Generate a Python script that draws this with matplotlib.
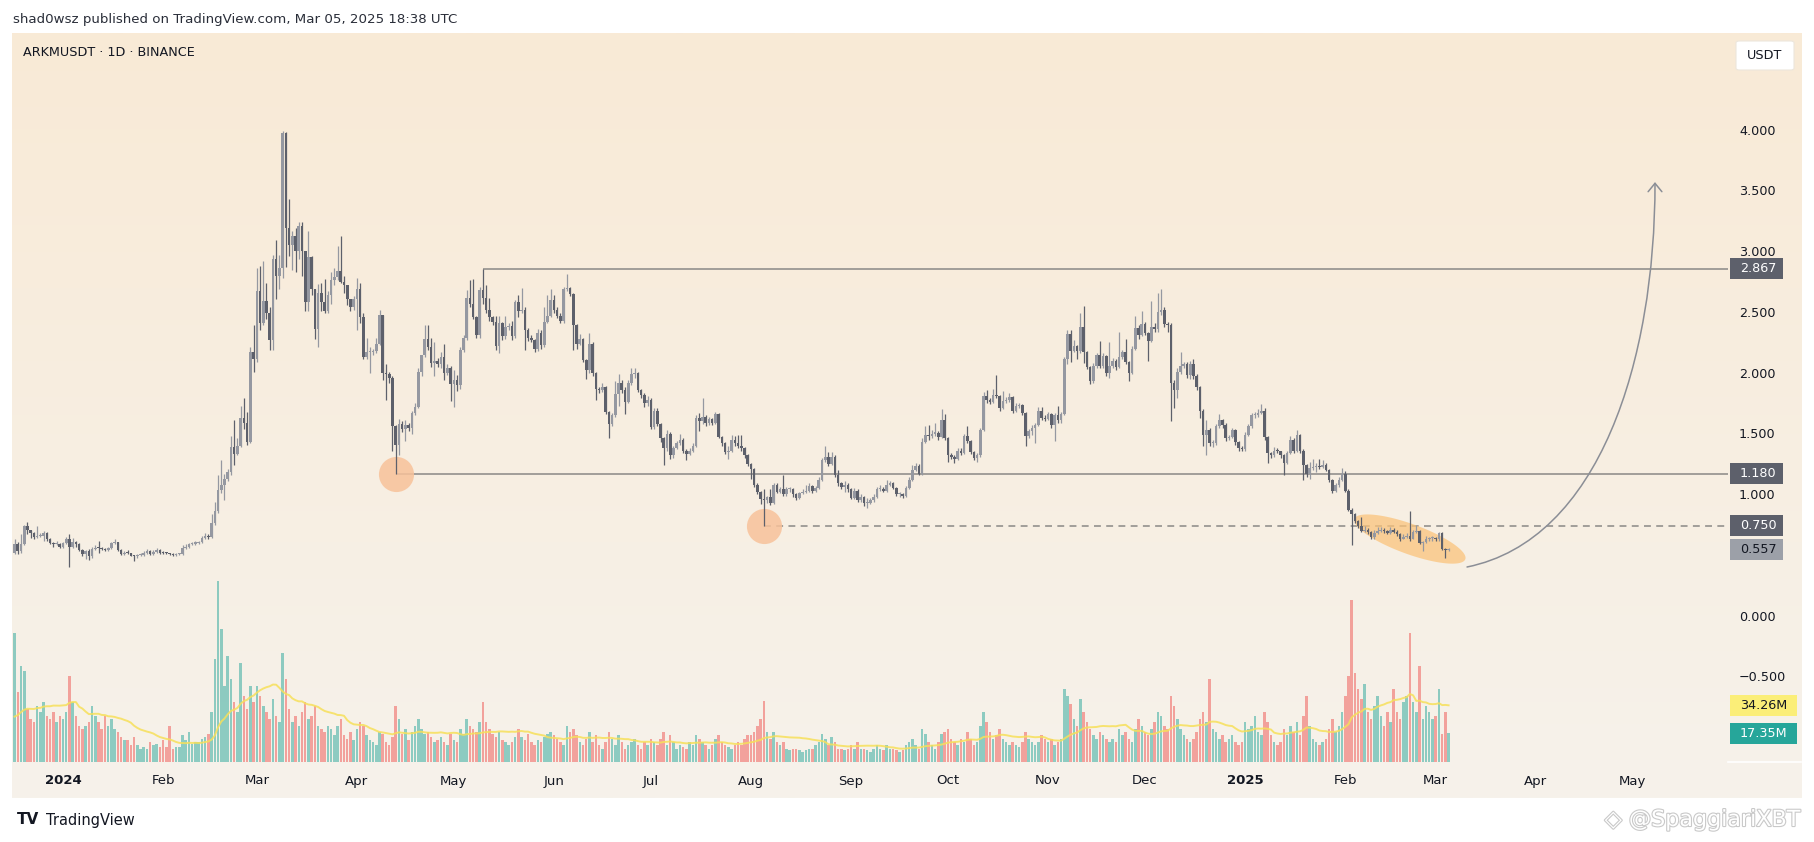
import numpy as np
import pandas as pd
import matplotlib
matplotlib.use('Agg')
import matplotlib.pyplot as plt
from matplotlib.patches import Rectangle, Polygon, FancyArrowPatch, FancyBboxPatch
from matplotlib.path import Path
import matplotlib.patheffects as pe

plt.rcParams['font.family'] = ['DejaVu Sans']

# ---------------- data (daily candles, Dec 17 2023 .. Mar 5 2025) ----------------
start_date = '2023-12-17'
first_open = 0.53

closes = [
    # Dec 2023
    0.605, 0.54, 0.60, 0.75, 0.715, 0.69, 0.655, 0.67, 0.67, 0.69, 0.64, 0.61, 0.60, 0.605, 0.58,
    # Jan 2024
    0.61, 0.64, 0.575, 0.62, 0.60, 0.55, 0.515, 0.54, 0.50, 0.56, 0.57, 0.565, 0.56, 0.55, 0.57, 0.61,
    0.615, 0.55, 0.52, 0.53, 0.528, 0.505, 0.50, 0.51, 0.51, 0.53, 0.545, 0.52, 0.535, 0.55, 0.53,
    # Feb 2024
    0.528, 0.525, 0.52, 0.51, 0.52, 0.522, 0.57, 0.58, 0.60, 0.605, 0.61, 0.62, 0.65, 0.67, 0.655,
    0.77, 0.872, 1.045, 1.086, 1.14, 1.19, 1.40, 1.34, 1.41, 1.635, 1.60, 1.44, 2.18, 2.12,
    # Mar 2024
    2.68, 2.42, 2.60, 2.50, 2.28, 2.95, 2.81, 2.87, 3.98, 3.20, 3.06, 3.14, 3.01, 3.22, 3.01, 2.59,
    2.96, 2.70, 2.37, 2.67, 2.59, 2.52, 2.65, 2.77, 2.80, 2.85, 2.76, 2.73, 2.62, 2.55, 2.62,
    # Apr 2024
    2.70, 2.47, 2.14, 2.18, 2.18, 2.19, 2.25, 2.485, 2.006, 2.00, 1.97, 1.575, 1.416, 1.59, 1.55,
    1.58, 1.56, 1.676, 1.73, 2.02, 2.156, 2.285, 2.225, 2.088, 2.11, 2.08, 2.14, 2.006, 2.05, 1.915,
    # May 2024
    1.95, 1.91, 2.20, 2.30, 2.63, 2.58, 2.47, 2.32, 2.69, 2.63, 2.53, 2.47, 2.43, 2.233, 2.418, 2.31,
    2.39, 2.395, 2.31, 2.595, 2.52, 2.53, 2.36, 2.30, 2.28, 2.21, 2.34, 2.24, 2.43, 2.48, 2.61,
    # Jun 2024
    2.53, 2.48, 2.44, 2.70, 2.705, 2.66, 2.40, 2.25, 2.29, 2.115, 2.03, 2.25, 2.01, 1.874, 1.87,
    1.89, 1.69, 1.59, 1.66, 1.835, 1.93, 1.87, 1.77, 1.93, 2.00, 2.005, 1.87, 1.83, 1.76, 1.79,
    # Jul 2024
    1.566, 1.70, 1.59, 1.47, 1.39, 1.51, 1.33, 1.39, 1.43, 1.46, 1.37, 1.34, 1.37, 1.41, 1.635, 1.61,
    1.65, 1.60, 1.63, 1.60, 1.67, 1.485, 1.43, 1.36, 1.37, 1.46, 1.43, 1.41, 1.39, 1.33, 1.26,
    # Aug 2024
    1.22, 1.09, 1.03, 0.97, 0.965, 0.99, 0.94, 1.086, 1.03, 1.05, 1.01, 1.05, 1.052, 1.01, 0.98, 1.02,
    1.03, 1.04, 1.08, 1.04, 1.06, 1.13, 1.29, 1.32, 1.26, 1.32, 1.17, 1.10, 1.07, 1.09, 1.05,
    # Sep 2024
    0.98, 1.04, 0.96, 0.99, 0.935, 0.94, 0.96, 0.99, 1.05, 1.055, 1.04, 1.09, 1.10, 1.06, 1.01,
    1.012, 1.00, 1.06, 1.13, 1.21, 1.24, 1.18, 1.44, 1.50, 1.49, 1.51, 1.515, 1.48, 1.62, 1.47,
    # Oct 2024
    1.33, 1.32, 1.30, 1.37, 1.35, 1.49, 1.45, 1.36, 1.31, 1.33, 1.54, 1.82, 1.79, 1.77, 1.83, 1.82,
    1.72, 1.78, 1.785, 1.81, 1.70, 1.74, 1.745, 1.68, 1.49, 1.53, 1.56, 1.58, 1.70, 1.64, 1.63,
    # Nov 2024
    1.67, 1.58, 1.66, 1.62, 1.67, 2.12, 2.33, 2.19, 2.23, 2.19, 2.39, 2.18, 2.06, 1.945, 2.07,
    2.155, 2.07, 2.15, 2.01, 2.07, 2.11, 2.06, 2.14, 2.18, 2.10, 2.01, 2.21, 2.38, 2.32, 2.41,
    # Dec 2024
    2.34, 2.27, 2.39, 2.37, 2.51, 2.53, 2.41, 2.405, 1.93, 1.87, 2.02, 2.07, 2.08, 1.99, 2.08, 1.985,
    1.89, 1.70, 1.50, 1.54, 1.43, 1.435, 1.57, 1.62, 1.58, 1.47, 1.48, 1.54, 1.44, 1.39, 1.385,
    # Jan 2025
    1.50, 1.57, 1.66, 1.665, 1.68, 1.70, 1.48, 1.35, 1.33, 1.37, 1.365, 1.33, 1.27, 1.35, 1.46, 1.37,
    1.50, 1.37, 1.25, 1.18, 1.23, 1.232, 1.24, 1.238, 1.25, 1.21, 1.13, 1.04, 1.085, 1.13, 1.18,
    # Feb 2025
    1.04, 0.883, 0.85, 0.79, 0.75, 0.71, 0.715, 0.70, 0.66, 0.69, 0.71, 0.72, 0.705, 0.69, 0.72,
    0.70, 0.68, 0.645, 0.66, 0.67, 0.645, 0.70, 0.71, 0.61, 0.615, 0.645, 0.647, 0.65,
    # Mar 2025
    0.64, 0.69, 0.56, 0.55, 0.557,
]

highs = [
    0.64, 0.62, 0.68, 0.76, 0.78, 0.72, 0.70, 0.75, 0.69, 0.71, 0.70, 0.65, 0.62, 0.63, 0.61,
    0.62, 0.66, 0.68, 0.65, 0.63, 0.61, 0.56, 0.55, 0.56, 0.58, 0.59, 0.63, 0.58, 0.57, 0.58, 0.62,
    0.64, 0.62, 0.56, 0.54, 0.55, 0.53, 0.51, 0.52, 0.53, 0.54, 0.56, 0.55, 0.55, 0.57, 0.56,
    0.54, 0.535, 0.53, 0.53, 0.53, 0.53, 0.59, 0.60, 0.61, 0.62, 0.63, 0.63, 0.67, 0.69, 0.68,
    0.85, 0.95, 1.17, 1.29, 1.18, 1.22, 1.49, 1.62, 1.47, 1.74, 1.80, 1.69, 2.22, 2.40,
    2.87, 2.89, 2.93, 2.75, 2.55, 2.98, 3.10, 2.98, 4.00, 3.99, 3.44, 3.18, 3.20, 3.25, 3.25, 3.01,
    3.18, 2.97, 2.70, 2.74, 2.75, 2.78, 2.68, 2.84, 2.87, 3.05, 3.14, 2.81, 2.73, 2.62, 2.64,
    2.79, 2.75, 2.50, 2.30, 2.22, 2.21, 2.30, 2.53, 2.49, 2.08, 2.02, 1.98, 1.58, 1.63, 1.61,
    1.62, 1.60, 1.70, 1.76, 2.05, 2.16, 2.40, 2.40, 2.30, 2.26, 2.13, 2.18, 2.25, 2.08, 2.07,
    2.03, 1.99, 2.22, 2.32, 2.69, 2.77, 2.78, 2.48, 2.72, 2.867, 2.73, 2.63, 2.48, 2.48, 2.48, 2.43,
    2.48, 2.42, 2.44, 2.61, 2.65, 2.71, 2.55, 2.38, 2.32, 2.29, 2.37, 2.36, 2.55, 2.65, 2.70,
    2.65, 2.55, 2.50, 2.72, 2.82, 2.72, 2.67, 2.41, 2.33, 2.30, 2.12, 2.34, 2.26, 2.02, 1.89,
    1.93, 1.90, 1.70, 1.68, 1.94, 2.00, 1.95, 1.89, 1.95, 2.05, 2.05, 2.02, 1.88, 1.84, 1.82,
    1.80, 1.72, 1.72, 1.60, 1.48, 1.54, 1.52, 1.41, 1.45, 1.51, 1.47, 1.38, 1.39, 1.43, 1.66, 1.68,
    1.80, 1.66, 1.65, 1.64, 1.69, 1.68, 1.49, 1.44, 1.41, 1.50, 1.49, 1.50, 1.50, 1.40, 1.34,
    1.27, 1.23, 1.10, 1.04, 1.05, 1.00, 1.05, 1.10, 1.10, 1.07, 1.17, 1.07, 1.07, 1.06, 1.02, 1.03,
    1.05, 1.09, 1.10, 1.09, 1.08, 1.15, 1.31, 1.41, 1.36, 1.36, 1.33, 1.21, 1.11, 1.12, 1.10,
    1.06, 1.06, 1.05, 1.01, 1.00, 0.98, 0.98, 1.01, 1.07, 1.09, 1.07, 1.13, 1.12, 1.11, 1.07,
    1.03, 1.02, 1.08, 1.15, 1.25, 1.27, 1.26, 1.47, 1.57, 1.58, 1.54, 1.60, 1.53, 1.71, 1.67,
    1.48, 1.35, 1.33, 1.39, 1.39, 1.51, 1.57, 1.46, 1.37, 1.35, 1.56, 1.85, 1.87, 1.80, 1.88, 1.99,
    1.83, 1.86, 1.81, 1.84, 1.82, 1.76, 1.76, 1.75, 1.69, 1.55, 1.58, 1.60, 1.73, 1.73, 1.66,
    1.69, 1.68, 1.68, 1.74, 1.69, 2.14, 2.36, 2.36, 2.28, 2.24, 2.50, 2.56, 2.19, 2.07, 2.09,
    2.17, 2.27, 2.17, 2.16, 2.26, 2.13, 2.12, 2.35, 2.20, 2.29, 2.11, 2.23, 2.48, 2.40, 2.52,
    2.43, 2.35, 2.60, 2.42, 2.67, 2.70, 2.55, 2.43, 2.42, 1.95, 2.05, 2.18, 2.10, 2.10, 2.11, 2.12,
    2.00, 1.90, 1.71, 1.62, 1.56, 1.46, 1.59, 1.67, 1.63, 1.60, 1.50, 1.56, 1.55, 1.45, 1.41,
    1.52, 1.59, 1.68, 1.69, 1.71, 1.75, 1.72, 1.49, 1.36, 1.40, 1.39, 1.37, 1.34, 1.37, 1.49, 1.47,
    1.54, 1.51, 1.38, 1.26, 1.28, 1.30, 1.27, 1.30, 1.29, 1.27, 1.22, 1.14, 1.10, 1.15, 1.23,
    1.20, 1.05, 0.90, 0.86, 0.80, 0.82, 0.75, 0.73, 0.71, 0.72, 0.74, 0.74, 0.73, 0.72, 0.74,
    0.73, 0.72, 0.69, 0.68, 0.69, 0.875, 0.72, 0.76, 0.72, 0.63, 0.67, 0.66, 0.67,
    0.66, 0.70, 0.70, 0.57, 0.57,
]

lows = [
    0.52, 0.52, 0.53, 0.59, 0.68, 0.65, 0.64, 0.65, 0.66, 0.63, 0.63, 0.60, 0.58, 0.59, 0.57,
    0.57, 0.60, 0.41, 0.57, 0.58, 0.54, 0.50, 0.48, 0.47, 0.49, 0.55, 0.53, 0.55, 0.54, 0.54, 0.56,
    0.60, 0.54, 0.51, 0.51, 0.52, 0.50, 0.46, 0.49, 0.50, 0.50, 0.52, 0.51, 0.51, 0.53, 0.52,
    0.52, 0.515, 0.51, 0.50, 0.50, 0.51, 0.51, 0.56, 0.57, 0.59, 0.59, 0.60, 0.61, 0.64, 0.64,
    0.65, 0.76, 0.86, 1.02, 0.96, 1.12, 1.17, 1.25, 1.33, 1.40, 1.55, 1.42, 1.43, 2.02,
    2.10, 2.36, 2.40, 2.45, 2.20, 2.20, 2.62, 2.70, 2.79, 2.88, 2.97, 2.86, 2.84, 2.95, 2.81, 2.52,
    2.52, 2.65, 2.29, 2.22, 2.52, 2.50, 2.50, 2.58, 2.73, 2.77, 2.75, 2.67, 2.57, 2.52, 2.53,
    2.36, 2.42, 2.12, 2.12, 2.01, 2.16, 2.17, 2.24, 1.95, 1.79, 1.93, 1.37, 1.18, 1.33, 1.52,
    1.45, 1.53, 1.51, 1.66, 1.72, 1.98, 2.14, 2.20, 2.06, 1.98, 2.06, 2.05, 1.95, 1.99, 1.78,
    1.73, 1.86, 1.88, 2.18, 2.28, 2.55, 2.45, 2.30, 2.30, 2.58, 2.50, 2.44, 2.40, 2.20, 2.17, 2.28,
    2.29, 2.36, 2.28, 2.30, 2.47, 2.50, 2.20, 2.27, 2.26, 2.18, 2.19, 2.21, 2.22, 2.42, 2.47,
    2.50, 2.46, 2.42, 2.42, 2.68, 2.64, 2.20, 2.21, 2.24, 2.10, 1.96, 2.01, 1.98, 1.79, 1.84,
    1.85, 1.67, 1.47, 1.57, 1.65, 1.74, 1.84, 1.67, 1.76, 1.91, 1.97, 1.85, 1.80, 1.73, 1.74,
    1.55, 1.55, 1.57, 1.44, 1.25, 1.37, 1.30, 1.31, 1.38, 1.42, 1.35, 1.29, 1.33, 1.36, 1.40, 1.53,
    1.59, 1.57, 1.58, 1.58, 1.59, 1.47, 1.41, 1.34, 1.30, 1.36, 1.41, 1.39, 1.37, 1.31, 1.24,
    1.14, 1.07, 1.01, 0.93, 0.75, 0.94, 0.92, 0.93, 1.02, 1.02, 1.00, 1.00, 1.03, 0.99, 0.96, 0.97,
    1.01, 1.02, 1.03, 1.02, 1.03, 1.05, 1.12, 1.28, 1.24, 1.25, 1.15, 1.08, 1.05, 1.03, 1.03,
    0.97, 0.97, 0.95, 0.95, 0.91, 0.90, 0.93, 0.95, 0.98, 1.04, 1.03, 1.03, 1.08, 1.05, 1.00,
    0.99, 0.98, 0.99, 1.05, 1.12, 1.20, 1.17, 1.17, 1.43, 1.46, 1.47, 1.49, 1.46, 1.47, 1.46,
    1.28, 1.30, 1.27, 1.29, 1.33, 1.34, 1.43, 1.34, 1.29, 1.28, 1.32, 1.53, 1.76, 1.75, 1.76, 1.80,
    1.70, 1.71, 1.76, 1.77, 1.68, 1.69, 1.72, 1.66, 1.41, 1.47, 1.50, 1.43, 1.57, 1.62, 1.61,
    1.62, 1.56, 1.45, 1.60, 1.60, 1.66, 2.08, 2.10, 2.18, 2.12, 2.17, 2.09, 2.04, 1.92, 1.93,
    2.05, 2.05, 2.05, 1.98, 1.97, 2.05, 2.03, 2.05, 2.12, 2.08, 1.94, 2.00, 2.20, 2.29, 2.31,
    2.32, 2.11, 2.26, 2.35, 2.35, 2.49, 2.39, 2.35, 1.61, 1.72, 1.80, 2.00, 2.05, 1.97, 1.96, 1.96,
    1.87, 1.64, 1.41, 1.33, 1.41, 1.40, 1.42, 1.56, 1.56, 1.45, 1.46, 1.47, 1.42, 1.37, 1.37,
    1.37, 1.49, 1.56, 1.64, 1.65, 1.67, 1.46, 1.27, 1.31, 1.32, 1.35, 1.31, 1.17, 1.26, 1.34, 1.35,
    1.36, 1.35, 1.13, 1.15, 1.14, 1.21, 1.19, 1.22, 1.23, 1.20, 1.11, 1.02, 1.03, 1.07, 1.12,
    1.03, 0.87, 0.59, 0.77, 0.73, 0.70, 0.70, 0.68, 0.64, 0.64, 0.68, 0.70, 0.69, 0.68, 0.68,
    0.69, 0.67, 0.63, 0.64, 0.65, 0.63, 0.64, 0.69, 0.60, 0.54, 0.61, 0.63, 0.63,
    0.63, 0.63, 0.55, 0.49, 0.54,
]

# volume in millions; prior_volumes_m are the 19 sessions before the window (only feed the MA)
prior_volumes_m = [24, 22, 26, 20, 28, 25, 23, 27, 21, 24, 26, 22, 25, 28, 23, 26, 24, 27, 29]
volumes_m = [
    # Dec 2023
    78, 42, 58, 55, 32, 26, 24, 34, 30, 36, 28, 26, 30, 24, 28,
    # Jan 2024
    26, 30, 52, 36, 28, 22, 20, 22, 24, 34, 28, 24, 20, 28, 22, 26, 20, 18, 15, 13, 13, 10, 15, 10,
    8, 9, 8, 12, 10, 11, 9,
    # Feb 2024
    13, 9, 22, 8, 9, 9, 16, 13, 18, 11, 12, 12, 14, 15, 17, 30, 62, 109, 80, 46, 64, 50, 36, 30,
    60, 40, 32, 46, 36,
    # Mar 2024
    46, 40, 34, 30, 26, 38, 28, 24, 66, 50, 32, 24, 28, 22, 30, 36, 26, 28, 34, 22, 20, 18, 22, 20,
    16, 22, 26, 16, 14, 18, 13,
    # Apr 2024
    20, 24, 22, 16, 13, 12, 10, 18, 17, 12, 10, 15, 34, 26, 17, 20, 13, 18, 22, 26, 20, 17, 18, 15,
    12, 13, 15, 12, 10, 17,
    # May 2024
    13, 12, 20, 17, 26, 22, 20, 18, 24, 36, 24, 20, 17, 15, 18, 13, 12, 10, 12, 15, 20, 15, 13, 17,
    12, 10, 13, 12, 15, 17, 18,
    # Jun 2024
    16, 14, 12, 10, 22, 18, 20, 16, 12, 10, 14, 18, 12, 16, 10, 8, 12, 18, 14, 10, 16, 12, 8, 10,
    12, 14, 10, 8, 12, 10,
    # Jul 2024
    14, 12, 10, 14, 18, 10, 16, 12, 8, 10, 9, 8, 12, 10, 16, 14, 12, 10, 8, 10, 14, 16, 12, 10, 9,
    8, 10, 12, 10, 14, 16,
    # Aug 2024
    16, 18, 22, 26, 37, 18, 14, 18, 12, 10, 12, 8, 7, 8, 8, 7, 6, 7, 8, 8, 10, 12, 17, 14, 10, 15,
    12, 8, 8, 7, 8,
    # Sep 2024
    10, 8, 12, 8, 8, 7, 6, 8, 10, 8, 7, 10, 8, 8, 7, 6, 7, 10, 12, 14, 10, 8, 20, 17, 12, 10, 8,
    12, 17, 18,
    # Oct 2024
    20, 14, 12, 10, 14, 12, 18, 14, 10, 12, 22, 30, 24, 18, 14, 16, 20, 14, 12, 10, 12, 10, 9, 12,
    18, 14, 12, 10, 12, 16, 14,
    # Nov 2024
    12, 14, 10, 12, 14, 44, 40, 35, 26, 22, 38, 30, 24, 20, 16, 14, 18, 16, 14, 12, 14, 12, 20, 16,
    18, 14, 12, 20, 26, 22,
    # Dec 2024
    18, 16, 20, 24, 30, 28, 22, 20, 40, 34, 26, 20, 16, 14, 12, 14, 18, 26, 30, 24, 50, 20, 18, 14,
    16, 12, 14, 16, 12, 10, 12,
    # Jan 2025
    24, 20, 22, 28, 18, 16, 30, 24, 16, 12, 10, 12, 20, 16, 22, 18, 24, 16, 28, 40, 22, 14, 12, 10,
    12, 14, 20, 26, 18, 22, 30,
    # Feb 2025
    40, 52, 98, 54, 44, 38, 47, 30, 26, 34, 40, 28, 22, 30, 24, 44, 30, 26, 36, 40, 78, 36, 30, 58,
    26, 34, 30, 26,
    # Mar 2025
    28, 44, 17, 30, 17.35,
]

month_ticks = ['2024-01-01', '2024-02-01', '2024-03-01', '2024-04-01', '2024-05-01', '2024-06-01',
               '2024-07-01', '2024-08-01', '2024-09-01', '2024-10-01', '2024-11-01', '2024-12-01',
               '2025-01-01', '2025-02-01', '2025-03-01', '2025-04-01', '2025-05-01']
month_labels = ['2024', 'Feb', 'Mar', 'Apr', 'May', 'Jun', 'Jul', 'Aug', 'Sep', 'Oct', 'Nov', 'Dec',
                '2025', 'Feb', 'Mar', 'Apr', 'May']
price_ticks = [4.0, 3.5, 3.0, 2.5, 2.0, 1.5, 1.0, 0.5, 0.0, -0.5]

# annotation levels
resistance = 2.867
support = 1.180
dashed_level = 0.750
last_price = 0.557
res_start = '2024-05-10'
sup_start = '2024-04-13'
dash_start = '2024-08-05'
ma_label = '34.26M'
vol_label = '17.35M'

# ---------------- figure geometry ----------------
W, H = 1814, 842
fig = plt.figure(figsize=(W / 100, H / 100), dpi=100)
fig.patch.set_facecolor('white')


def fx(px):
    return px / W


def fy(py):
    return 1 - py / H


ref = pd.Timestamp('2024-01-01')
dates = pd.date_range(start_date, periods=len(closes), freq='D')
x = np.asarray((dates - ref).days, dtype=float)


def dnum(s):
    return float((pd.Timestamp(s) - ref).days)


# background panel with soft gradient
bg = fig.add_axes([fx(12), fy(798), fx(1802) - fx(12), fy(33) - fy(798)], zorder=0)
g = np.linspace(0, 1, 256)[:, None, None]
top_c = np.array([249, 234, 214]) / 255
bot_c = np.array([246, 242, 235]) / 255
img = top_c[None, None, :] * (1 - g) + bot_c[None, None, :] * g
bg.imshow(img, aspect='auto', extent=[0, 1, 0, 1], origin='upper')
bg.axis('off')

pos = [fx(12), fy(762), fx(1728) - fx(12), fy(33) - fy(762)]
axv = fig.add_axes(pos, zorder=1)
ax = fig.add_axes(pos, zorder=2, sharex=axv)
for a in (axv, ax):
    a.set_facecolor('none')
    for s in a.spines.values():
        s.set_visible(False)
    a.tick_params(left=False, bottom=False, right=False, top=False,
                  labelleft=False, labelbottom=False)
ax.set_xlim(-15.79, 515.5)
ax.set_ylim(-1.193, 4.807)
axv.set_ylim(0, 440)

# ---------------- candles ----------------
c = np.array(closes)
o = np.array([first_open] + closes[:-1])
hi = np.maximum(np.array(highs), np.maximum(o, c))
lo = np.minimum(np.array(lows), np.minimum(o, c))
up = c >= o
UP, DOWN = '#9598a1', '#5d606b'
col = np.where(up, UP, DOWN)
ax.vlines(x, lo, hi, colors=col, lw=0.9, zorder=4)
body_b = np.minimum(o, c)
body_h = np.maximum(np.abs(c - o), 0.009)
ax.bar(x, body_h, bottom=body_b, width=0.8, color=col, lw=0, zorder=5)

# ---------------- volume ----------------
vols = np.array(volumes_m, dtype=float)
vcol = np.where(up, '#26a69a', '#ef5350')
axv.bar(x, vols, width=0.78, color=vcol, alpha=0.5, lw=0)
ma_all = pd.Series(prior_volumes_m + volumes_m, dtype=float).rolling(20).mean()
ma = ma_all.iloc[len(prior_volumes_m):].to_numpy()
axv.plot(x, ma, color='#f6e05a', lw=1.4, alpha=0.85)

# ---------------- drawings ----------------
line_c = '#8a8886'
xr = ax.get_xlim()[1]
ax.hlines(resistance, dnum(res_start), xr, color=line_c, lw=1.1, zorder=3)
ax.hlines(support, dnum(sup_start), xr, color=line_c, lw=1.1, zorder=3)
ax.plot([dnum(dash_start), xr], [dashed_level, dashed_level], color=line_c, lw=1.1,
        ls=(0, (4.5, 3.5)), zorder=3)

ax.scatter([dnum(sup_start), dnum(dash_start)], [support, dashed_level], s=640,
           color='#f7c29a', alpha=0.85, lw=0, zorder=3.5)

# ellipse around the Feb 2025 range (size given in screen pixels)
ell_center = ('2025-02-21', 0.642)
ell_a, ell_b, ell_angle = 59, 15, -20
fig.canvas.draw()
cx, cy = ax.transData.transform((dnum(ell_center[0]), ell_center[1]))
t = np.linspace(0, 2 * np.pi, 200)
ang = np.deg2rad(ell_angle)
ex = ell_a * np.cos(t) * np.cos(ang) - ell_b * np.sin(t) * np.sin(ang) + cx
ey = ell_a * np.cos(t) * np.sin(ang) + ell_b * np.sin(t) * np.cos(ang) + cy
pts = ax.transData.inverted().transform(np.column_stack([ex, ey]))
ax.add_patch(Polygon(pts, closed=True, fc='#fbc47c', alpha=0.75, lw=0, zorder=3.5))

# projected curved arrow
arrow_pts = [(434.7, 0.412), (475.85, 0.634), (492.9, 2.115), (492.9, 3.58)]
path = Path(arrow_pts, [Path.MOVETO, Path.CURVE4, Path.CURVE4, Path.CURVE4])
arr = FancyArrowPatch(path=path, arrowstyle='->,head_length=0.55,head_width=0.45',
                      mutation_scale=11, color='#8b8e96', lw=1.1, zorder=6)
ax.add_patch(arr)

# ---------------- right price scale ----------------
TXT = '#131722'


def ydisp(a, v):
    return a.transData.transform((0, v))[1] / H


for p in price_ticks:
    lab = f'{p:.3f}'.replace('-', '\u2212')
    fig.text(fx(1739), ydisp(ax, p), lab, ha='left', va='center', fontsize=9.2,
             color=TXT, zorder=4)


def tag(yf, text, fc, tc, x0=1730, x1=1783, h=21):
    fig.patches.append(Rectangle((fx(x0), yf - h / 2 / H), (x1 - x0) / W, h / H,
                                 transform=fig.transFigure, fc=fc, ec='none', zorder=5))
    fig.text(fx(x0 + 10), yf, text, ha='left', va='center', fontsize=9.2, color=tc, zorder=6)


tag(ydisp(ax, resistance), f'{resistance:.3f}', '#5d606b', 'white')
tag(ydisp(ax, support), f'{support:.3f}', '#5d606b', 'white')
tag(ydisp(ax, dashed_level), f'{dashed_level:.3f}', '#5d606b', 'white')
tag(ydisp(ax, last_price), f'{last_price:.3f}', '#9ca0a8', TXT)
tag(ydisp(axv, ma[-1]), ma_label, '#fbee78', TXT, x1=1797)
tag(ydisp(axv, vols[-1]), vol_label, '#26a69a', 'white', x1=1797)

# white separator of the price-scale corner
fig.add_artist(plt.Line2D([fx(1728), fx(1801)], [fy(762), fy(762)], color='white', lw=1.2,
                          transform=fig.transFigure, zorder=3))

# USDT badge
fig.patches.append(FancyBboxPatch((fx(1736), fy(70)), fx(58), 29 / H,
                                  boxstyle='round,pad=0,rounding_size=0.002',
                                  transform=fig.transFigure, fc='white', ec='#ece6dc',
                                  lw=0.8, zorder=5))
fig.text(fx(1765), fy(55.5), 'USDT', ha='center', va='center', fontsize=9.2, color=TXT, zorder=6)

# ---------------- time axis ----------------
for d, lab in zip(month_ticks, month_labels):
    xd = ax.transData.transform((dnum(d), 0))[0] / W
    bold = lab.isdigit()
    fig.text(xd, fy(781), lab, ha='center', va='center', fontsize=9.5, color=TXT,
             fontweight='bold' if bold else 'normal', zorder=4)

# ---------------- header / footer ----------------
fig.text(fx(13), fy(20), 'shad0wsz published on TradingView.com, Mar 05, 2025 18:38 UTC',
         ha='left', va='center', fontsize=9.6, color='#2a2e39')
fig.text(fx(23), fy(53), 'ARKMUSDT \u00b7 1D \u00b7 BINANCE', ha='left', va='center',
         fontsize=9.2, color=TXT)

fig.text(fx(17), fy(820), 'TV', ha='left', va='center', fontsize=11, fontweight='heavy',
         color='#131722')
fig.text(fx(46), fy(820), 'TradingView', ha='left', va='center', fontsize=10.5, color='#131722')

wm = fig.text(fx(1801), fy(820), '\u25c7 @SpaggiariXBT', ha='right', va='center', fontsize=16,
              color='white')
wm.set_path_effects([pe.withStroke(linewidth=1.6, foreground='#c9c9c9')])

fig.savefig('out.png', dpi=100, facecolor='white')
